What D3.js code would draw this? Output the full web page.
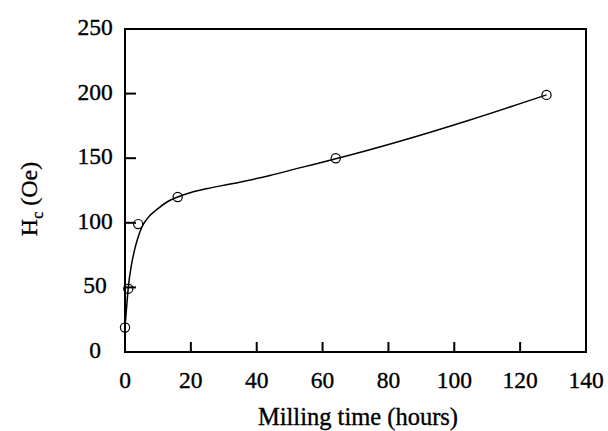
<!DOCTYPE html>
<html>
<head>
<meta charset="utf-8">
<script src="https://cdn.jsdelivr.net/npm/d3@7"></script>
<style>
  html, body { margin: 0; padding: 0; background: #fff; }
  svg text { font-family: "Liberation Serif", "Times New Roman", serif; fill: #000; stroke: #000; stroke-width: 0.35px; }
</style>
</head>
<body>
<svg id="chart" width="608" height="431"></svg>
<script>
// Measured data points
const millingHours = [0, 1, 4, 16, 64, 128];
const coercivity = [19, 49, 99, 120, 150, 199];

// Fitted guide curve
const fitHours = [0, 0.5, 1, 2, 3, 4, 5, 7, 10, 13, 16, 20, 25, 32, 44, 53, 64, 84, 104, 128];
const fitCoercivity = [19, 35, 50, 68, 80, 89, 96, 104, 111, 116.5, 120, 123.5, 126.5, 130, 136.6, 142.5, 149.5, 163.5, 179, 199];

// Axis ticks
const xTicks = [0, 20, 40, 60, 80, 100, 120, 140];
const yTicks = [0, 50, 100, 150, 200, 250];

const svg = d3.select("#chart");
const L = 125, R = 586, T = 29, B = 352;

const x = d3.scaleLinear().domain([0, 140]).range([L, R]);
const y = d3.scaleLinear().domain([0, 250]).range([B, T]);

// Curve
const line = d3.line()
  .x((d, i) => x(fitHours[i]))
  .y((d, i) => y(fitCoercivity[i]))
  .curve(d3.curveMonotoneX);
svg.append("path")
  .datum(fitHours)
  .attr("d", line)
  .attr("fill", "none")
  .attr("stroke", "#000")
  .attr("stroke-width", 1.5);

// Frame
svg.append("rect")
  .attr("x", L).attr("y", T)
  .attr("width", R - L).attr("height", B - T)
  .attr("fill", "none").attr("stroke", "#000").attr("stroke-width", 2);

// Inner ticks
svg.selectAll(".yt").data(yTicks.filter(v => v > 0 && v < 250)).enter()
  .append("line")
  .attr("x1", L).attr("x2", L + 11)
  .attr("y1", d => y(d)).attr("y2", d => y(d))
  .attr("stroke", "#000").attr("stroke-width", 2);
svg.selectAll(".xt").data(xTicks.filter(v => v > 0 && v < 140)).enter()
  .append("line")
  .attr("x1", d => x(d)).attr("x2", d => x(d))
  .attr("y1", B).attr("y2", B - 10)
  .attr("stroke", "#000").attr("stroke-width", 2);

// Tick labels
svg.selectAll(".yl").data(yTicks).enter()
  .append("text")
  .attr("x", 95).attr("y", d => y(d) + 6)
  .attr("text-anchor", "middle")
  .attr("font-size", 23.5)
  .text(d => d);
svg.selectAll(".xl").data(xTicks).enter()
  .append("text")
  .attr("x", d => x(d)).attr("y", 388)
  .attr("text-anchor", "middle")
  .attr("font-size", 23.5)
  .text(d => d);

// Points
svg.selectAll(".pt").data(millingHours).enter()
  .append("circle")
  .attr("cx", (d) => x(d))
  .attr("cy", (d, i) => y(coercivity[i]))
  .attr("r", 4.6)
  .attr("fill", "none")
  .attr("stroke", "#000")
  .attr("stroke-width", 1.2);

// Axis titles
svg.append("text")
  .attr("x", 358).attr("y", 425)
  .attr("text-anchor", "middle")
  .attr("font-size", 24.5)
  .text("Milling time (hours)");

const yl = svg.append("text")
  .attr("transform", "translate(37,199) rotate(-90)")
  .attr("text-anchor", "middle")
  .attr("font-size", 24);
yl.append("tspan").text("H");
yl.append("tspan").attr("font-size", 16).attr("dy", 6).text("c");
yl.append("tspan").attr("dy", -6).text(" (Oe)");
</script>
</body>
</html>
